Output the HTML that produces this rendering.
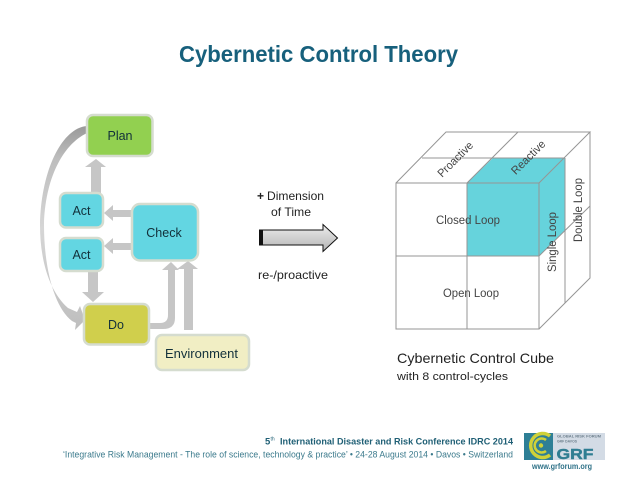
<!DOCTYPE html>
<html><head><meta charset="utf-8"><style>
html,body{margin:0;padding:0;background:#fff;width:638px;height:479px;overflow:hidden}
svg{display:block}
text{font-family:"Liberation Sans",sans-serif}
</style></head><body>
<svg width="638" height="479" viewBox="0 0 638 479" xmlns="http://www.w3.org/2000/svg">
<defs>
<linearGradient id="g" x1="0" y1="0" x2="0" y2="1"><stop offset="0" stop-color="#ececec"/><stop offset="1" stop-color="#b4b4b4"/></linearGradient>
<linearGradient id="c" gradientUnits="userSpaceOnUse" x1="0" y1="126" x2="0" y2="330"><stop offset="0" stop-color="#999"/><stop offset=".16" stop-color="#bdbdbd"/><stop offset=".5" stop-color="#d6d6d6"/><stop offset="1" stop-color="#bebebe"/></linearGradient>
</defs>
<text x="179" y="62" font-size="23.500" font-weight="bold" fill="#17607c" textLength="279" lengthAdjust="spacingAndGlyphs">Cybernetic Control Theory</text>

<!-- arrows -->
<g fill="#c6c6c6">
<path d="M91 193V167H85L96 159L106 167H101V193Z"/>
<path d="M131 210H113V205L104 213L113 221V217H131Z"/>
<path d="M131 243H113V238L104 246L113 254V250H131Z"/>
<path d="M88 271H98V292H104L93 302L82 292H88Z"/>
<path d="M149 323H160Q168 323 168 315V270H162L171 262L179 270H175V318Q175 329 163 329H149Z"/>
<path d="M184 330V269H177L188 261L198 269H193V330Z"/>
</g>
<path d="M87 126C62 128 41 170 40 225C40 262 50 292 68 308L77 312L80 306L85 320L75 330L76 323L72 321C55 308 44 270 44 225C45 180 62 145 87 133Z" fill="url(#c)"/>

<!-- boxes -->
<g stroke="#d5dccf" stroke-width="2.500">
<rect x="87" y="115" width="65.500" height="41" rx="6" fill="#92d050"/>
<rect x="60" y="193" width="43" height="34.500" rx="6" fill="#63d6e2"/>
<rect x="60" y="238" width="43" height="33" rx="6" fill="#63d6e2"/>
<rect x="132" y="204" width="66" height="56.500" rx="8" fill="#63d6e2"/>
<rect x="84" y="304" width="65" height="40.500" rx="6" fill="#d0cf4c"/>
<rect x="156" y="335" width="93" height="35" rx="6" fill="#f1eec4"/>
</g>
<g font-size="12.500" fill="#12303a" text-anchor="middle">
<text x="120" y="140">Plan</text>
<text x="81.500" y="215">Act</text>
<text x="81.500" y="259">Act</text>
<text x="164" y="237">Check</text>
<text x="116" y="329">Do</text>
<text x="201.500" y="358" textLength="73" lengthAdjust="spacingAndGlyphs">Environment</text>
</g>

<!-- center -->
<g font-size="12" fill="#222">
<text x="257" y="200" font-weight="bold">+</text>
<text x="267" y="200" textLength="57" lengthAdjust="spacingAndGlyphs">Dimension</text>
<text x="271" y="216" textLength="40" lengthAdjust="spacingAndGlyphs">of Time</text>
<text x="258" y="279" textLength="70" lengthAdjust="spacingAndGlyphs">re-/proactive</text>
</g>
<path d="M259.500 230H323V224.500L337.500 238L323 251.500V245H259.500Z" fill="url(#g)" stroke="#111" stroke-width="1"/>
<rect x="259" y="230" width="4" height="15" fill="#111"/>

<!-- cube -->
<path d="M467 183L493 158H565L539 183Z M467 183H539V256H467Z M539 183L565 158V230L539 256Z" fill="#66d3dc"/>
<g fill="none" stroke="#959595" stroke-width="1">
<path d="M396 183H539V329H396Z"/>
<path d="M396 256H539M467 183V329"/>
<path d="M396 183L446 132H590L539 183"/>
<path d="M467 183L518 132M422 158H565"/>
<path d="M539 329L590 278V132M539 256L590 206"/>
<path d="M565 158V303"/>
</g>
<g fill="#444" font-size="11.500">
<text text-anchor="middle" transform="translate(458 162) rotate(-45)" textLength="45" lengthAdjust="spacingAndGlyphs">Proactive</text>
<text text-anchor="middle" transform="translate(531 160) rotate(-45)" textLength="43" lengthAdjust="spacingAndGlyphs">Reactive</text>
<text x="468" y="224" text-anchor="middle" textLength="64" lengthAdjust="spacingAndGlyphs">Closed Loop</text>
<text x="471" y="297" text-anchor="middle" textLength="56" lengthAdjust="spacingAndGlyphs">Open Loop</text>
<text text-anchor="middle" transform="translate(556 242) rotate(-90)" textLength="60" lengthAdjust="spacingAndGlyphs">Single Loop</text>
<text text-anchor="middle" transform="translate(582 210) rotate(-90)" textLength="64" lengthAdjust="spacingAndGlyphs">Double Loop</text>
</g>
<text x="397" y="363" font-size="14" fill="#222" textLength="157" lengthAdjust="spacingAndGlyphs">Cybernetic Control Cube</text>
<text x="397" y="380" font-size="11" fill="#222" textLength="111" lengthAdjust="spacingAndGlyphs">with 8 control-cycles</text>

<!-- footer -->
<text x="265" y="444.500" font-size="9.500" font-weight="bold" fill="#1f5f75">5</text>
<text x="270.500" y="440.500" font-size="5" fill="#1f5f75">th</text>
<text x="280" y="444.500" font-size="9.500" font-weight="bold" fill="#1f5f75" textLength="233" lengthAdjust="spacingAndGlyphs">International Disaster and Risk Conference IDRC 2014</text>
<text x="63" y="457.500" font-size="9" fill="#3b7a8c" textLength="450" lengthAdjust="spacingAndGlyphs">‘Integrative Risk Management - The role of science, technology &amp; practice’ • 24-28 August 2014 • Davos • Switzerland</text>

<!-- logo -->
<rect x="524" y="433" width="81" height="27" fill="#d3dbe5"/>
<rect x="524" y="433" width="29" height="27" fill="#2e7f96"/>
<g fill="none" stroke="#cfd138">
<path d="M550 436A12 12 0 1 0 550 455" stroke-width="3.500"/>
<path d="M546 440A7 7 0 1 0 546 451" stroke-width="2.500"/>
</g>
<circle cx="541" cy="445.500" r="2.200" fill="#cfd138"/>
<text x="557" y="437.500" font-size="3.800" font-weight="bold" fill="#6d7f8c" textLength="44" lengthAdjust="spacingAndGlyphs">GLOBAL RISK FORUM</text>
<text x="557" y="442.500" font-size="3.800" font-weight="bold" fill="#6d7f8c" textLength="20" lengthAdjust="spacingAndGlyphs">GRF DAVOS</text>
<text x="556.500" y="459" font-size="15" font-weight="bold" fill="#2f7d92" stroke="#2f7d92" stroke-width=".4" textLength="37" lengthAdjust="spacingAndGlyphs">GRF</text>
<text x="532" y="469" font-size="8" font-weight="bold" fill="#2f7288" textLength="60" lengthAdjust="spacingAndGlyphs">www.grforum.org</text>
</svg>
</body></html>
